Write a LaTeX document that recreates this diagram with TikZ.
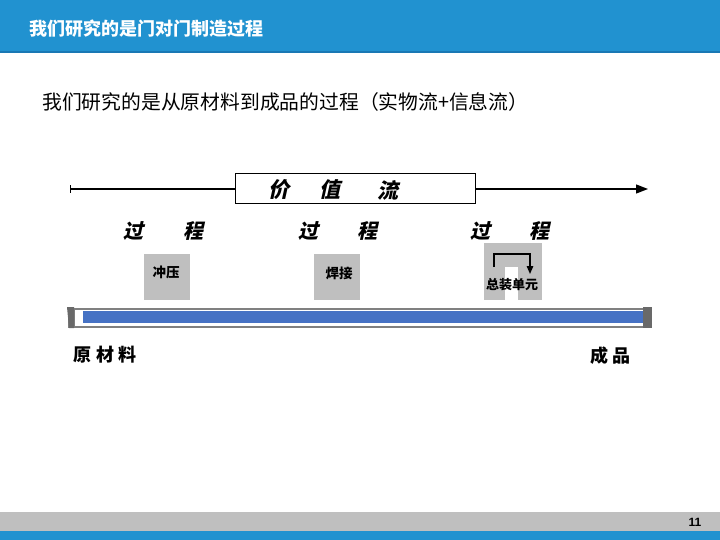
\documentclass[tikz,border=0pt]{standalone}
\usepackage{fontspec}
\usetikzlibrary{arrows.meta}
\newfontfamily\cjk{Noto Sans CJK SC}
\newfontfamily\songit[FakeSlant=0.22]{Noto Sans CJK SC}
\newfontfamily\arial{Liberation Sans}
\definecolor{banner}{RGB}{33,146,208}
\definecolor{bannerdark}{RGB}{25,120,180}
\definecolor{boxgray}{RGB}{191,191,191}
\definecolor{barblue}{RGB}{70,114,196}
\definecolor{framegray}{RGB}{128,128,128}
\definecolor{capgray}{RGB}{105,105,105}
\tikzset{
  vsch/.style={inner sep=0, font=\songit\bfseries\fontsize{21}{21}\selectfont},
  proc/.style={inner sep=0, font=\songit\bfseries\fontsize{20}{20}\selectfont},
  station/.style={fill=boxgray, inner sep=0, minimum width=46pt, minimum height=46pt},
  stlabel/.style={inner sep=0, font=\cjk\bfseries\fontsize{13.5}{13.5}\selectfont},
  endlabel/.style={inner sep=0, font=\cjk\bfseries\fontsize{18}{18}\selectfont},
}
\begin{document}
\begin{tikzpicture}[x=1pt,y=-1pt]
\useasboundingbox (0,0) rectangle (720,540);
% header
\fill[banner] (0,0) rectangle (720,52);
\fill[bannerdark] (0,51) rectangle (720,53);
\node[anchor=west, inner sep=0, text=white, font=\cjk\bfseries\fontsize{18}{18}\selectfont] (title) at (29,29) {我们研究的是门对门制造过程};
\node[anchor=west, inner sep=0, font=\cjk\fontsize{19.8}{19.8}\selectfont] (sub) at (42,102) {我们研究的是从原材料到成品的过程（实物流+信息流）};
% value stream
\node[draw, line width=1pt, fill=white, minimum width=240pt, minimum height=30pt, inner sep=0] (vs) at (355,189) {};
\node[vsch] (v1) at (279,190) {价};
\node[vsch] (v2) at (330,190) {值};
\node[vsch] (v3) at (388,190) {流};
\coordinate (L) at (70,189);
\coordinate (R) at (648,189);
\draw[line width=1.3pt, {Bar[width=8pt]}-] (L) -- (vs.west);
\draw[line width=1.3pt, -{Triangle[length=12pt,width=9pt]}] (vs.east) -- (R);
% process labels
\node[proc] (g1) at (133,231) {过};
\node[proc] (c1) at (193,231) {程};
\node[proc] (g2) at (308,231) {过};
\node[proc] (c2) at (367,231) {程};
\node[proc] (g3) at (480,231) {过};
\node[proc] (c3) at (539,231) {程};
% stations
\node[station] (s1) at (167,277) {};
\node[stlabel] (t1) at (166,272) {冲压};
\node[station] (s2) at (337,277) {};
\node[stlabel] (t2) at (339,273) {焊接};
\fill[boxgray] (484,243) rectangle (542,300);
\fill[white] (505,267) rectangle (518,300);
\node[inner sep=0, font=\cjk\bfseries\fontsize{13}{13}\selectfont] (t3) at (512,285) {总装单元};
\coordinate (a1) at (494,267);
\coordinate (a2) at (494,254);
\coordinate (a3) at (530,254);
\coordinate (a4) at (530,274);
\draw[line width=1.4pt, -{Triangle[length=8pt,width=6.5pt]}] (a1) -- (a2) -- (a3) -- (a4);
% bar
\fill[framegray] (68,308) rectangle (651,328);
\fill[white] (75,310) rectangle (645,326);
\fill[barblue] (83,310.5) rectangle (644,322.5);
\fill[capgray] (67,307) -- (74,307) -- (74,328) -- (69,328) -- cycle;
\fill[capgray] (643,307) rectangle (652,328);
% end labels
\node[endlabel] (m1) at (82,355) {原};
\node[endlabel] (m2) at (105,355) {材};
\node[endlabel] (m3) at (127,355) {料};
\node[endlabel] (p1) at (599,356) {成};
\node[endlabel] (p2) at (621,356) {品};
% footer
\fill[boxgray] (0,512) rectangle (720,531);
\fill[banner] (0,531) rectangle (720,540);
\node[inner sep=0, font=\arial\bfseries\fontsize{12}{12}\selectfont] (pg) at (695,522) {11};
\end{tikzpicture}
\end{document}
